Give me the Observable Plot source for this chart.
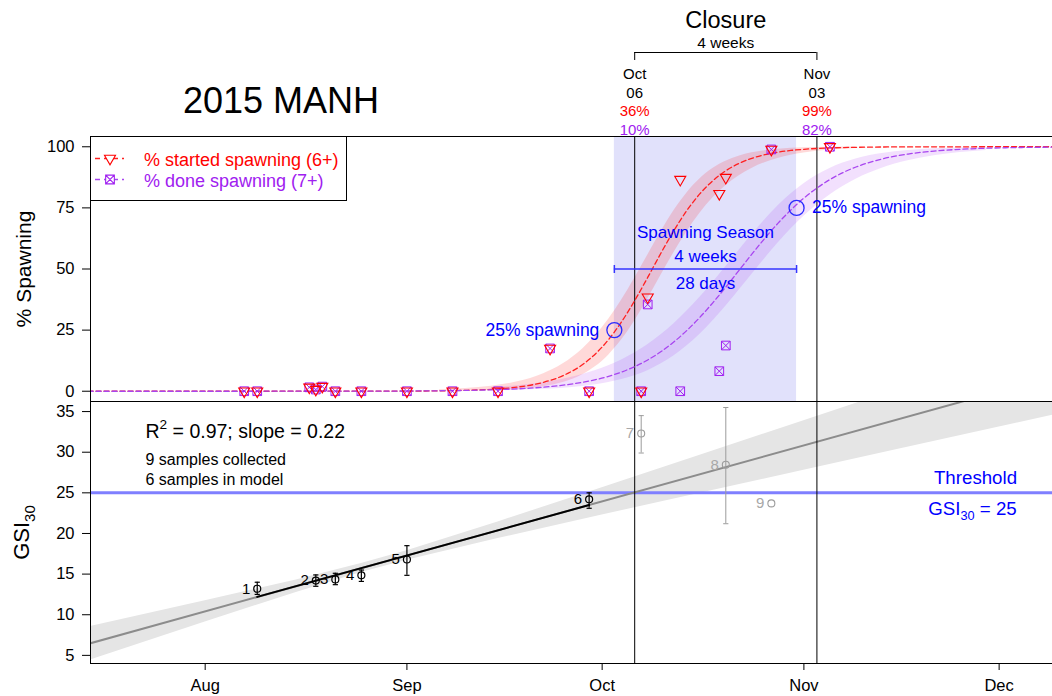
<!DOCTYPE html>
<html>
<head>
<meta charset="utf-8">
<script src="https://cdn.jsdelivr.net/npm/d3@7"></script>
<script src="https://cdn.jsdelivr.net/npm/@observablehq/plot@0.6"></script>
<style>
html,body{margin:0;padding:0;background:#fff;}
#wrap{position:relative;width:1052px;height:696px;overflow:hidden;background:#fff;}
#wrap svg{position:absolute;left:0;}
</style>
</head>
<body>
<div id="wrap"></div>
<script>
// ---------------- data ----------------
const chartTitle = "2015 MANH";
const legendLabels = ["% started spawning (6+)", "% done spawning (7+)"];

// observed proportions (top panel)
const obsDates = ["2015-08-07","2015-08-09","2015-08-17","2015-08-18","2015-08-19","2015-08-21","2015-08-25","2015-09-01","2015-09-08","2015-09-15","2015-09-23","2015-09-29","2015-10-07","2015-10-08","2015-10-13","2015-10-19","2015-10-20","2015-10-27","2015-11-05"];
const pctStarted = [0,0,1.6,0.7,1.9,0,0,0,0,0,17.5,0,0,38.5,86.6,80.8,87.4,98.9,100];
const pctDone    = [0,0,1.6,0.7,1.9,0,0,0,0,0,17.5,0,0,35.5,0,8.2,18.7,98.9,100];

// fitted curves
const curveDates = ["2015-07-14","2015-08-01","2015-08-21","2015-08-31","2015-09-06","2015-09-10","2015-09-14","2015-09-18","2015-09-22","2015-09-25","2015-09-28","2015-09-30","2015-10-02","2015-10-04","2015-10-06","2015-10-08","2015-10-10","2015-10-12","2015-10-14","2015-10-16","2015-10-18","2015-10-20","2015-10-22","2015-10-24","2015-10-26","2015-10-28","2015-10-30","2015-11-01","2015-11-03","2015-11-05","2015-11-07","2015-11-09","2015-11-13","2015-11-17","2015-11-21","2015-11-25","2015-11-29","2015-12-04","2015-12-10"];
const startedFit = [0,0,0.01,0.05,0.16,0.36,0.78,1.70,3.65,6.38,10.93,15.37,21.19,28.46,37.07,46.57,56.34,65.62,73.86,80.71,86.10,90.17,93.14,95.26,96.75,97.78,98.49,98.97,99.30,99.53,99.68,99.78,99.90,99.95,99.98,99.99,100,100,100];
const doneFit    = [0,0,0.02,0.09,0.19,0.33,0.57,0.97,1.66,2.47,3.66,4.74,6.12,7.88,10.07,12.80,16.13,20.13,24.82,30.19,36.17,42.63,49.33,56.05,62.57,68.65,74.15,78.99,83.13,86.59,89.43,91.72,95.00,97.03,98.25,98.97,99.40,99.69,99.86];

// confidence bands of the fitted curves
const startedBandDates = ["2015-09-06","2015-09-10","2015-09-14","2015-09-18","2015-09-22","2015-09-25","2015-09-28","2015-09-30","2015-10-02","2015-10-04","2015-10-06","2015-10-08","2015-10-10","2015-10-12","2015-10-14","2015-10-16","2015-10-18","2015-10-20","2015-10-22","2015-10-24","2015-10-26","2015-10-28","2015-10-30","2015-11-01","2015-11-05","2015-11-09"];
const startedLo = [0.05,0.12,0.30,0.74,1.82,3.54,6.70,10.07,14.77,21.02,28.78,37.73,47.23,56.56,65.18,72.71,79.02,84.09,88.08,91.14,93.47,95.21,96.49,97.44,98.65,99.28];
const startedHi = [0.57,1.09,2.05,3.85,7.16,11.24,17.32,22.75,29.42,37.29,46.21,55.65,65.04,73.69,81.02,86.78,91.07,94.09,96.14,97.51,98.41,98.98,99.36,99.59,99.84,99.94];
const doneBandDates = ["2015-09-14","2015-09-18","2015-09-22","2015-09-26","2015-09-30","2015-10-04","2015-10-08","2015-10-12","2015-10-16","2015-10-20","2015-10-24","2015-10-28","2015-11-01","2015-11-05","2015-11-09","2015-11-13","2015-11-17","2015-11-21","2015-11-25","2015-11-29"];
const doneLo = [0.22,0.41,0.77,1.42,2.62,4.75,8.41,14.37,23.17,34.73,47.75,60.52,71.54,80.27,86.69,91.19,94.26,96.28,97.61,98.47];
const doneHi = [1.46,2.28,3.55,5.50,8.44,12.79,19.0,27.47,38.30,50.92,64.01,75.79,84.89,91.11,94.96,97.22,98.48,99.18,99.56,99.77];

// spawning season (25% markers) and closure
const seasonDates = ["2015-10-02T21:00","2015-10-30T21:00"];
const seasonPct = [25, 75];
const seasonLabels = ["25% spawning","25% spawning"];
const closureDates = ["2015-10-06","2015-11-03"];
const closureStarted = [36, 99];
const closureDone = [10, 82];

// GSI samples (bottom panel)
const sampleIds = [1,2,3,4,5,6,7,8,9];
const sampleDates = ["2015-08-09","2015-08-18","2015-08-21","2015-08-25","2015-09-01","2015-09-29","2015-10-07","2015-10-20","2015-10-27"];
const gsiMean = [13.2,14.2,14.35,14.85,16.8,24.2,32.3,28.45,23.7];
const gsiLow  = [12.5,13.5,13.7,14.1,14.85,23.1,29.9,21.2,23.7];
const gsiHigh = [14.0,14.9,15.1,15.5,18.5,25.0,34.5,35.5,23.7];
const inModel = [true,true,true,true,true,true,false,false,false];

// regression line, model segment and its confidence band
const fitDates = ["2015-07-13","2015-12-10"];
const fitValues = [6.19, 39.49];
const modelDates = ["2015-08-09","2015-09-29"];
const modelValues = [12.2, 23.5];
const gsiBandDates = ["2015-07-13","2015-08-01","2015-08-15","2015-08-25","2015-09-01","2015-09-15","2015-10-01","2015-10-15","2015-11-01","2015-11-15","2015-12-10"];
const gsiBandLo = [4.08,9.11,12.75,15.19,16.70,19.38,22.27,24.77,27.78,30.27,34.69];
const gsiBandHi = [8.30,11.71,14.29,16.30,17.88,21.42,25.63,29.35,33.88,37.61,44.29];

const threshold = 25;
const rSquared = 0.97;
const slope = 0.22;

// axes
const monthTicks = ["2015-08-01","2015-09-01","2015-10-01","2015-11-01","2015-12-01"];
const spawnTicks = [0,25,50,75,100];
const gsiTicks = [5,10,15,20,25,30,35];

// ---------------- helpers ----------------
const FONT = '"Liberation Sans", Arial, Helvetica, sans-serif';
const W = 1052;
const parseT = s => new Date(s.includes("T") ? s + ":00Z" : s + "T00:00:00Z");
const xDomain = [new Date("2015-07-14T09:05:00Z"), new Date("2015-12-09T04:50:00Z")];
const baseStyle = {fontFamily: FONT, fontSize: "16.5px", color: "black", background: "transparent"};
const RED = "#ff0000", PURPLE = "#a020f0", BLUE = "#0000ff";

const triDown = {draw(ctx, size) {
  const s = Math.sqrt(size * 4 / Math.sqrt(3)), h = s * Math.sqrt(3) / 2;
  ctx.moveTo(-s / 2, -h / 3); ctx.lineTo(s / 2, -h / 3); ctx.lineTo(0, 2 * h / 3); ctx.closePath();
}};
const squareX = {draw(ctx, size) {
  const w = Math.sqrt(size) / 2;
  ctx.moveTo(-w, -w); ctx.lineTo(w, -w); ctx.lineTo(w, w); ctx.lineTo(-w, w); ctx.closePath();
  ctx.moveTo(-w, -w); ctx.lineTo(w, w); ctx.moveTo(w, -w); ctx.lineTo(-w, w);
}};
const hCap = {draw(ctx) { ctx.moveTo(-2.6, 0); ctx.lineTo(2.6, 0); }};
const vTick = {draw(ctx) { ctx.moveTo(0, -4); ctx.lineTo(0, 4); }};

function rich(root) {
  d3.select(root).selectAll("text").each(function () {
    const t = this.textContent;
    if (!/[_^]\{/.test(t)) return;
    const el = d3.select(this).text(null);
    const re = /([_^])\{([^}]*)\}/g;
    let last = 0, m, reset = null;
    const add = s => { if (!s) return; const ts = el.append("tspan").text(s); if (reset !== null) { ts.attr("dy", reset + "em"); reset = null; } };
    while ((m = re.exec(t))) {
      add(t.slice(last, m.index));
      const sub = m[1] === "_";
      const k = sub ? 0.68 : 0.7;
      const shift = sub ? 0.42 : -0.62;
      el.append("tspan").attr("font-size", (k * 100) + "%").attr("dy", shift + "em").text(m[2]);
      reset = -shift * k;
      last = re.lastIndex;
    }
    add(t.slice(last));
  });
}

// ---------------- tables ----------------
const obs = obsDates.map((d, i) => ({date: parseT(d), started: pctStarted[i], done: pctDone[i]}));
const curves = curveDates.map((d, i) => ({date: parseT(d), started: startedFit[i], done: doneFit[i]}));
const sBand = startedBandDates.map((d, i) => ({date: parseT(d), lo: startedLo[i], hi: startedHi[i]}));
const dBand = doneBandDates.map((d, i) => ({date: parseT(d), lo: doneLo[i], hi: doneHi[i]}));
const seasonPts = seasonDates.map((d, i) => ({date: parseT(d), pct: seasonPct[i], label: seasonLabels[i]}));
const season = {
  start: seasonPts[0].date, end: seasonPts[1].date,
  midDate: new Date((+seasonPts[0].date + +seasonPts[1].date) / 2),
  mid: (seasonPct[0] + seasonPct[1]) / 2
};
const seasonDays = Math.round((season.end - season.start) / 864e5);
const closure = closureDates.map((d, i) => ({date: parseT(d), started: closureStarted[i], done: closureDone[i]}));
const closureSpan = {start: closure[0].date, end: closure[1].date, mid: new Date((+closure[0].date + +closure[1].date) / 2)};
const closureWeeks = Math.round((closureSpan.end - closureSpan.start) / (7 * 864e5));
const samples = sampleIds.map((id, i) => ({id, date: parseT(sampleDates[i]), mean: gsiMean[i], lo: gsiLow[i], hi: gsiHigh[i], inModel: inModel[i]}));
const inS = samples.filter(d => d.inModel), outS = samples.filter(d => !d.inModel);
const hasBar = d => d.hi > d.lo;
const fitLine = fitDates.map((d, i) => ({date: parseT(d), v: fitValues[i]}));
const modelLine = modelDates.map((d, i) => ({date: parseT(d), v: modelValues[i]}));
const gsiBand = gsiBandDates.map((d, i) => ({date: parseT(d), lo: gsiBandLo[i], hi: gsiBandHi[i]}));
const fmtMon = d3.utcFormat("%b"), fmtDay = d3.utcFormat("%d");

const wrap = document.getElementById("wrap");
function place(el, top) { el.style.position = "absolute"; el.style.left = "0px"; el.style.top = top + "px"; wrap.appendChild(el); }

// ---------------- header (closure bracket) ----------------
const header = Plot.plot({
  width: W, height: 136, marginTop: 52, marginBottom: 76, marginLeft: 90, marginRight: 0,
  style: baseStyle,
  x: {type: "utc", domain: xDomain, axis: null},
  y: {domain: [0, 1], axis: null},
  marks: [
    Plot.ruleY([closureSpan], {x1: "start", x2: "end", y: () => 1, stroke: "black"}),
    Plot.ruleX(closure, {x: "date", stroke: "black"}),
    Plot.text([closureSpan], {x: "mid", frameAnchor: "top", text: () => "Closure", dy: -32.2, fontSize: 23.5, lineAnchor: "middle"}),
    Plot.text([closureSpan], {x: "mid", frameAnchor: "top", text: () => `${closureWeeks} weeks`, dy: -9.3, fontSize: 15.5, lineAnchor: "middle"}),
    Plot.text(closure, {x: "date", frameAnchor: "bottom", text: d => fmtMon(d.date), dy: 13.9, fontSize: 15, lineAnchor: "middle"}),
    Plot.text(closure, {x: "date", frameAnchor: "bottom", text: d => fmtDay(d.date), dy: 32.5, fontSize: 15, lineAnchor: "middle"}),
    Plot.text(closure, {x: "date", frameAnchor: "bottom", text: d => `${d.started}%`, dy: 50.9, fontSize: 15, lineAnchor: "middle", fill: RED}),
    Plot.text(closure, {x: "date", frameAnchor: "bottom", text: d => `${d.done}%`, dy: 69.2, fontSize: 15, lineAnchor: "middle", fill: PURPLE})
  ]
});
place(header, 0);

// ---------------- top panel: % spawning ----------------
const topPlot = Plot.plot({
  width: W, height: 267, marginTop: 1, marginBottom: 1, marginLeft: 90, marginRight: 0,
  style: baseStyle,
  x: {type: "utc", domain: xDomain, axis: null},
  y: {domain: [-4.2, 104.2], ticks: spawnTicks, tickSize: 8, tickPadding: 8, label: null},
  marks: [
    Plot.rect([season], {x1: "start", x2: "end", fill: "#e1e1fb"}),
    Plot.areaY(sBand, {x: "date", y1: "lo", y2: "hi", fill: RED, fillOpacity: 0.15, curve: "monotone-x"}),
    Plot.areaY(dBand, {x: "date", y1: "lo", y2: "hi", fill: PURPLE, fillOpacity: 0.14, curve: "monotone-x"}),
    Plot.ruleX(closure, {x: "date", stroke: "black"}),
    Plot.line(curves, {x: "date", y: "started", stroke: "#ff2020", strokeWidth: 1.3, strokeDasharray: "5,3", curve: "monotone-x", clip: true}),
    Plot.line(curves, {x: "date", y: "done", stroke: "#a845f0", strokeWidth: 1.3, strokeDasharray: "5,3", curve: "monotone-x", clip: true}),
    Plot.ruleY([season], {x1: "start", x2: "end", y: "mid", stroke: "#3535ff", strokeWidth: 1.5}),
    Plot.dot(seasonPts, {x: "date", y: () => season.mid, symbol: vTick, stroke: "#3535ff", strokeWidth: 1.5}),
    Plot.dot(seasonPts, {x: "date", y: "pct", r: 7.5, stroke: "#2a2aff", strokeWidth: 1.3}),
    Plot.text(seasonPts.slice(0, 1), {x: "date", y: "pct", text: "label", textAnchor: "end", dx: -15, fill: BLUE, fontSize: 17.5, lineAnchor: "middle"}),
    Plot.text(seasonPts.slice(1), {x: "date", y: "pct", text: "label", textAnchor: "start", dx: 15.5, fill: BLUE, fontSize: 17.5, lineAnchor: "middle"}),
    Plot.text([season], {x: "midDate", y: "mid", text: () => "Spawning Season", dy: -36.2, fill: BLUE, fontSize: 17, lineAnchor: "middle"}),
    Plot.text([season], {x: "midDate", y: "mid", text: () => `${seasonDays / 7} weeks`, dy: -12.9, fill: BLUE, fontSize: 17, lineAnchor: "middle"}),
    Plot.text([season], {x: "midDate", y: "mid", text: () => `${seasonDays} days`, dy: 14.8, fill: BLUE, fontSize: 17, lineAnchor: "middle"}),
    Plot.dot(obs, {x: "date", y: "done", symbol: squareX, r: 4.9, stroke: PURPLE, strokeWidth: 1}),
    Plot.dot(obs, {x: "date", y: "started", symbol: triDown, r: 4.1, stroke: RED, strokeWidth: 1.1}),
    Plot.frame({stroke: "black"}),
    Plot.text(["% Spawning"], {text: d => d, frameAnchor: "left", dx: -66, rotate: -90, fontSize: 21, textAnchor: "middle", lineAnchor: "middle"})
  ]
});
place(topPlot, 135);

// ---------------- bottom panel: GSI ----------------
const botPlot = Plot.plot({
  width: W, height: 296, marginTop: 1, marginBottom: 33, marginLeft: 90, marginRight: 0,
  style: baseStyle,
  x: {type: "utc", domain: xDomain, ticks: monthTicks.map(parseT), tickFormat: "%b", tickSize: 7, tickPadding: 9, label: null},
  y: {domain: [4.0, 36.24], ticks: gsiTicks, tickSize: 8, tickPadding: 8, label: null},
  marks: [
    Plot.areaY(gsiBand, {x: "date", y1: "lo", y2: "hi", fill: "#e5e5e5", clip: true}),
    Plot.ruleY([threshold], {stroke: "#7f7fff", strokeWidth: 3}),
    Plot.line(fitLine, {x: "date", y: "v", stroke: "#8c8c8c", strokeWidth: 2, clip: true}),
    Plot.ruleX(closure, {x: "date", stroke: "black"}),
    Plot.line(modelLine, {x: "date", y: "v", stroke: "black", strokeWidth: 2}),
    Plot.ruleX(inS.filter(hasBar), {x: "date", y1: "lo", y2: "hi", stroke: "black", strokeWidth: 1.2}),
    Plot.ruleX(outS.filter(hasBar), {x: "date", y1: "lo", y2: "hi", stroke: "#9c9c9c", strokeWidth: 1}),
    Plot.dot(inS.filter(hasBar), {x: "date", y: "lo", symbol: hCap, stroke: "black", strokeWidth: 1.2}),
    Plot.dot(inS.filter(hasBar), {x: "date", y: "hi", symbol: hCap, stroke: "black", strokeWidth: 1.2}),
    Plot.dot(outS.filter(hasBar), {x: "date", y: "lo", symbol: hCap, stroke: "#9c9c9c", strokeWidth: 1}),
    Plot.dot(outS.filter(hasBar), {x: "date", y: "hi", symbol: hCap, stroke: "#9c9c9c", strokeWidth: 1}),
    Plot.dot(inS, {x: "date", y: "mean", r: 3.5, stroke: "black", strokeWidth: 1.2}),
    Plot.dot(outS, {x: "date", y: "mean", r: 3.5, stroke: "#9c9c9c", strokeWidth: 1.1}),
    Plot.text(inS, {x: "date", y: "mean", text: d => String(d.id), textAnchor: "end", dx: -7, fontSize: 15, fill: "black", lineAnchor: "middle"}),
    Plot.text(outS, {x: "date", y: "mean", text: d => String(d.id), textAnchor: "end", dx: -7, fontSize: 15, fill: "#a8a8a8", lineAnchor: "middle"}),
    Plot.text([threshold], {y: d => d, frameAnchor: "right", text: () => "Threshold", textAnchor: "middle", dx: -77, dy: -15, fill: BLUE, fontSize: 18.7, lineAnchor: "middle"}),
    Plot.text([threshold], {y: d => d, frameAnchor: "right", text: d => `GSI_{30} = ${d}`, textAnchor: "middle", dx: -80, dy: 16.3, fill: BLUE, fontSize: 18.7, lineAnchor: "middle"}),
    Plot.text([`R^{2} = ${rSquared}; slope = ${slope}`], {text: d => d, frameAnchor: "top-left", textAnchor: "start", dx: 55, dy: 30, fontSize: 19.5, lineAnchor: "middle"}),
    Plot.text([`${samples.length} samples collected`], {text: d => d, frameAnchor: "top-left", textAnchor: "start", dx: 55, dy: 58, fontSize: 16, lineAnchor: "middle"}),
    Plot.text([`${inS.length} samples in model`], {text: d => d, frameAnchor: "top-left", textAnchor: "start", dx: 55, dy: 78, fontSize: 16, lineAnchor: "middle"}),
    Plot.frame({stroke: "black"}),
    Plot.text(["GSI_{30}"], {text: d => d, frameAnchor: "left", dx: -69, rotate: -90, fontSize: 22, textAnchor: "middle", lineAnchor: "middle"})
  ]
});
rich(botPlot);
place(botPlot, 400);

// ---------------- overlay: title and legend ----------------
const ov = d3.create("svg").attr("width", W).attr("height", 696).attr("font-family", FONT)
  .style("position", "absolute").style("left", "0px").style("top", "0px");
ov.append("text").attr("x", 183).attr("y", 113).attr("font-size", 36).attr("fill", "black").text(chartTitle);
const lg = ov.append("g");
lg.append("rect").attr("x", 90.5).attr("y", 136.5).attr("width", 256).attr("height", 64).attr("fill", "white").attr("stroke", "black");
const legendItems = [
  {label: legendLabels[0], color: RED, lineColor: "#ff2020", symbol: triDown, r: 4.1, y: 158.5, ty: 166},
  {label: legendLabels[1], color: PURPLE, lineColor: "#a845f0", symbol: squareX, r: 4.9, y: 179.5, ty: 187}
];
legendItems.forEach(it => {
  lg.append("line").attr("x1", 95).attr("x2", 124).attr("y1", it.y).attr("y2", it.y)
    .attr("stroke", it.lineColor).attr("stroke-width", 1.3).attr("stroke-dasharray", "5,4");
  lg.append("path").attr("transform", `translate(110,${it.y})`)
    .attr("d", d3.symbol().type(it.symbol).size(Math.PI * it.r * it.r)())
    .attr("fill", "white").attr("stroke", it.color).attr("stroke-width", 1.1);
  lg.append("text").attr("x", 144).attr("y", it.ty).attr("font-size", 18).attr("fill", it.color).text(it.label);
});
wrap.appendChild(ov.node());
</script>
</body>
</html>
